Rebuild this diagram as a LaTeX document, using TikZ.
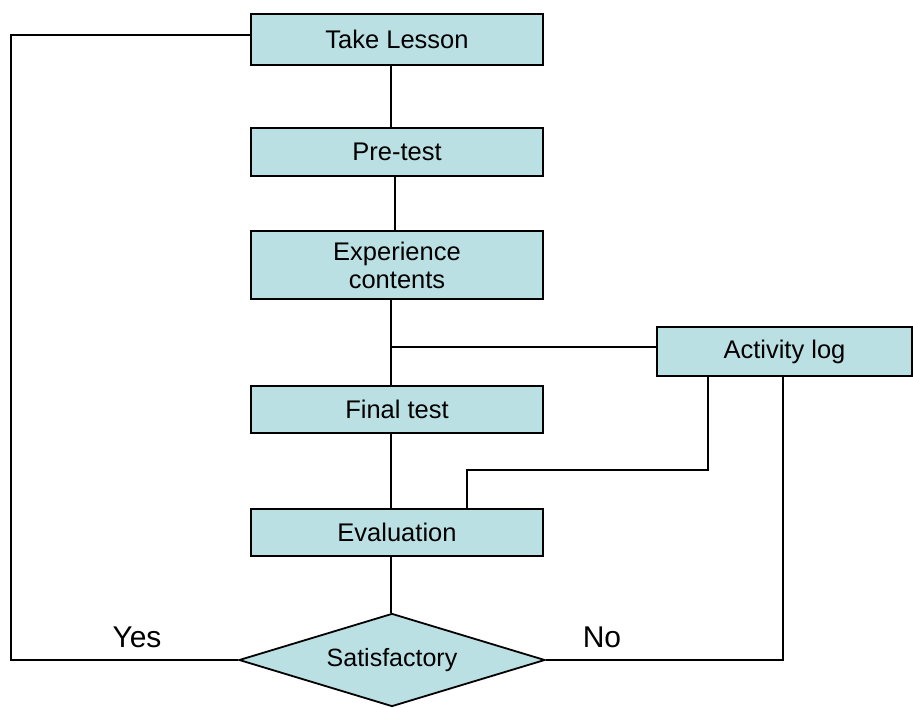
\documentclass[tikz,border=0pt]{standalone}
\usepackage{fontspec}
\setmainfont{Liberation Sans}
\usetikzlibrary{shapes.geometric,calc}
\definecolor{boxfill}{RGB}{187,224,227}
\begin{document}
\begin{tikzpicture}[x=1pt,y=-1pt,
  box/.style={draw=black,line width=1.8pt,fill=boxfill,rectangle,inner sep=0pt,
    minimum width=292pt,align=center,font=\fontsize{25.5}{28}\selectfont},
  dec/.style={draw=black,line width=1.8pt,fill=boxfill,diamond,aspect=3.29,inner sep=0pt,
    minimum width=306pt,minimum height=93pt,font=\fontsize{25}{28}\selectfont},
  conn/.style={line width=1.8pt,draw=black},
  lbl/.style={font=\fontsize{30}{34}\selectfont,inner sep=0pt}]
\useasboundingbox (0,0) rectangle (913,707);
\node[box,minimum height=51pt] (take) at (397,39.5) {Take Lesson};
\node[box,minimum height=48pt] (pre) at (397,152) {Pre-test};
\node[box,minimum height=68pt] (exp) at (397,265) {Experience\\contents};
\node[box,minimum height=49pt,minimum width=255pt] (act) at (784.5,351.5) {Activity log};
\node[box,minimum height=47pt] (final) at (397,409.5) {Final test};
\node[box,minimum height=47pt] (eval) at (397,532.5) {Evaluation};
\node[dec] (dia) at (392,660) {Satisfactory};
\coordinate (j) at (391,347);
\coordinate (tl) at (11,35);
\coordinate (bl) at (11,660);
\coordinate (br) at (783,660);
\coordinate (m1) at (708,470);
\coordinate (m2) at (467,470);
% vertical chain
\draw[conn] (take.south -| j) -- (pre.north -| j);
\draw[conn] ([xshift=4pt]pre.south -| j) -- ([xshift=4pt]exp.north -| j);
\draw[conn] (exp.south -| j) -- (final.north -| j);
\draw[conn] (j) -- (j -| act.west);
\draw[conn] (final.south -| j) -- (eval.north -| j);
\draw[conn] (eval.south -| j) -- (dia.north -| j);
% activity log to evaluation
\draw[conn] (act.south -| m1) -- (m1) -- (m2) -- (eval.north -| m2);
% loops
\draw[conn] (dia.west) -- (bl) -- (tl) -- (tl -| take.west);
\draw[conn] (dia.east) -- (br) -- (act.south -| br);
\node[lbl] (yes) at (137,637) {Yes};
\node[lbl] (no) at (602,637) {No};
\end{tikzpicture}
\end{document}
